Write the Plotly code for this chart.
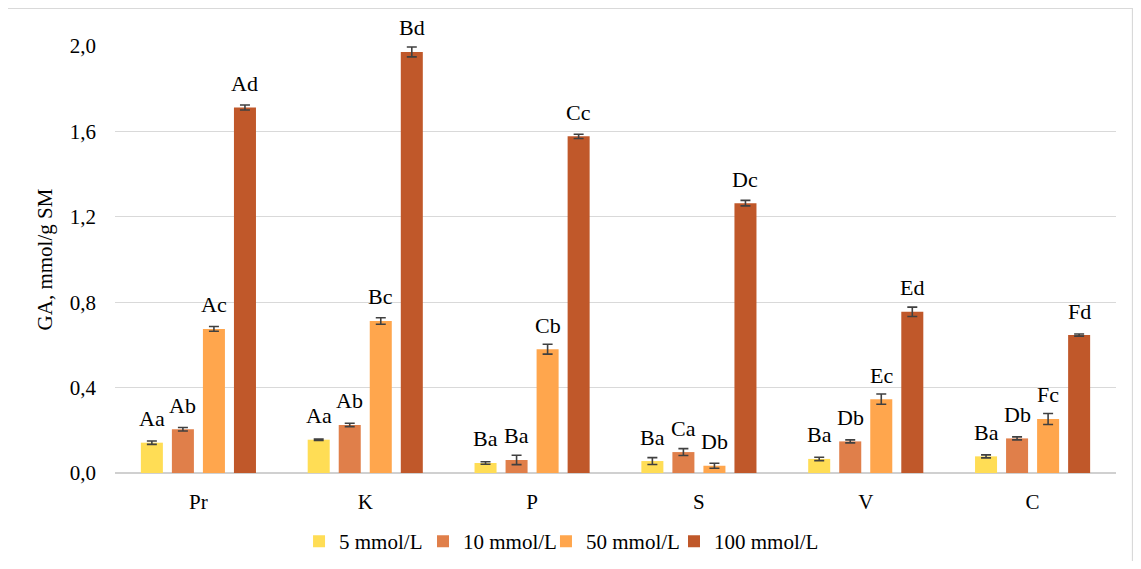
import plotly.graph_objects as go

categories = ["Pr", "K", "P", "S", "V", "C"]
series_names = ["5 mmol/L", "10 mmol/L", "50 mmol/L", "100 mmol/L"]

v5 = [0.142, 0.156, 0.047, 0.056, 0.066, 0.078]
v10 = [0.205, 0.225, 0.061, 0.098, 0.148, 0.162]
v50 = [0.675, 0.712, 0.580, 0.034, 0.346, 0.253]
v100 = [1.712, 1.972, 1.577, 1.264, 0.755, 0.646]

e5 = [0.008, 0.003, 0.006, 0.016, 0.008, 0.007]
e10 = [0.008, 0.008, 0.022, 0.016, 0.007, 0.007]
e50 = [0.011, 0.015, 0.023, 0.012, 0.024, 0.026]
e100 = [0.012, 0.023, 0.010, 0.013, 0.022, 0.005]

l5 = ["Aa", "Aa", "Ba", "Ba", "Ba", "Ba"]
l10 = ["Ab", "Ab", "Ba", "Ca", "Db", "Db"]
l50 = ["Ac", "Bc", "Cb", "Db", "Ec", "Fc"]
l100 = ["Ad", "Bd", "Cc", "Dc", "Ed", "Fd"]

y_ticks = [0.0, 0.4, 0.8, 1.2, 1.6, 2.0]
y_tick_text = ["0,0", "0,4", "0,8", "1,2", "1,6", "2,0"]
y_title = "GA, mmol/g SM"

colors = ["#FFDD55", "#E07F4A", "#FFA64D", "#C0582A"]
values = [v5, v10, v50, v100]
errors = [e5, e10, e50, e100]
labels = [l5, l10, l50, l100]

FONT = "Liberation Serif"
step = 0.186
bar_w = 0.132
offsets = [(j - 1.5) * step for j in range(4)]
legend_x = [0.2587, 0.3689, 0.4782, 0.592]
legend_ids = ["legend", "legend2", "legend3", "legend4"]

fig = go.Figure()
annotations = []
for j in range(4):
    xs = [i + offsets[j] for i in range(len(categories))]
    fig.add_trace(go.Bar(
        x=xs, y=values[j], width=bar_w, name=series_names[j],
        marker=dict(color=colors[j], line=dict(width=0)),
        error_y=dict(type="data", array=errors[j], visible=True,
                     color="#404040", thickness=1.6, width=5),
        cliponaxis=False, legend=legend_ids[j],
    ))
    for x, y, t in zip(xs, values[j], labels[j]):
        annotations.append(dict(
            x=x, y=y, text=t, showarrow=False, xref="x", yref="y",
            yanchor="middle", yshift=24,
            font=dict(family=FONT, size=22, color="#000000"),
        ))

annotations.append(dict(
    x=-0.07, y=0.5, xref="paper", yref="paper", text=y_title, textangle=-90,
    showarrow=False, xanchor="center", yanchor="middle",
    font=dict(family=FONT, size=21, color="#000000"),
))

legend_layout = {}
for j, lid in enumerate(legend_ids):
    legend_layout[lid] = dict(
        orientation="h", x=legend_x[j], xanchor="left", xref="container",
        y=0.035, yanchor="middle", yref="container",
        font=dict(family=FONT, size=21, color="#000000"), itemwidth=30,
        bgcolor="rgba(0,0,0,0)",
    )

fig.update_layout(
    width=1125, height=553,
    margin=dict(l=107, r=17, t=38, b=88, autoexpand=False),
    paper_bgcolor="white", plot_bgcolor="white",
    barmode="overlay",
    font=dict(family=FONT, size=21, color="#000000"),
    showlegend=True,
    annotations=annotations,
    xaxis=dict(
        range=[-0.5, len(categories) - 0.5],
        tickvals=list(range(len(categories))), ticktext=categories,
        showgrid=False, zeroline=False, showline=False, ticks="",
        ticklabelstandoff=14,
        tickfont=dict(family=FONT, size=21, color="#000000"),
    ),
    yaxis=dict(
        range=[0, 2.0], tickvals=y_ticks, ticktext=y_tick_text,
        showgrid=True, gridcolor="#D9D9D9", gridwidth=1.3,
        zeroline=True, zerolinecolor="#D0D0D0", zerolinewidth=2,
        showline=False, ticks="", ticklabelstandoff=18,
        tickfont=dict(family=FONT, size=21, color="#000000"),
    ),
    shapes=[dict(type="rect", xref="paper", yref="paper",
                 x0=-0.108, x1=1.0165, y0=-0.25, y1=1.088,
                 line=dict(color="#D9D9D9", width=1.3), layer="below")],
    **legend_layout,
)

fig.write_html("out.html")
